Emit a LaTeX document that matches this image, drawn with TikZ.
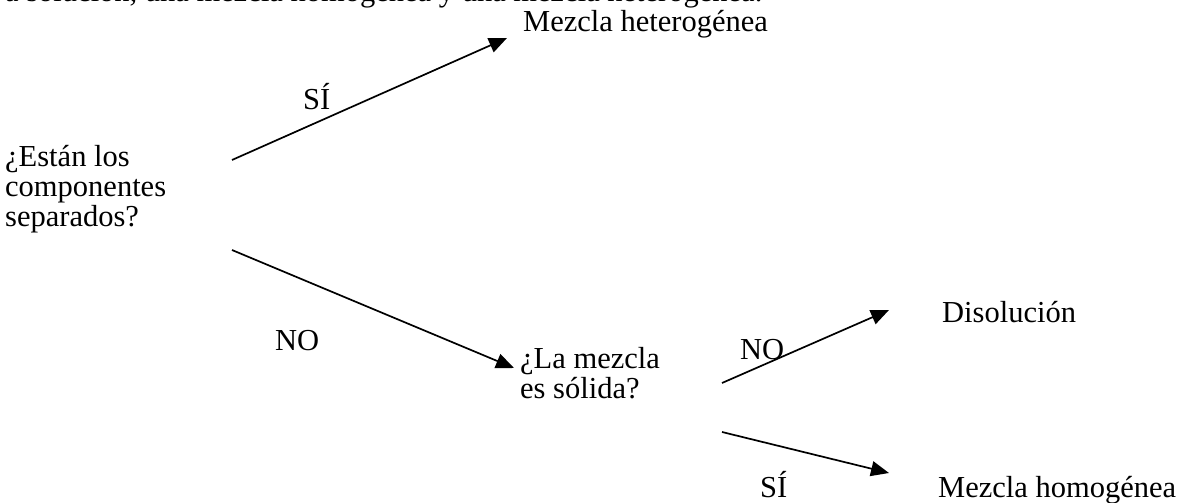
\documentclass[tikz,border=0pt]{standalone}
\usepackage{fontspec}
\setmainfont{Liberation Serif}
\usetikzlibrary{arrows.meta}
\begin{document}
\begin{tikzpicture}[x=1pt,y=-1pt,
  txt/.style={inner sep=0pt, anchor=base west, align=left,
    font=\fontsize{30.5}{30}\selectfont},
  arr/.style={line width=1.7pt, -{Triangle[length=18pt,width=15pt]}}]
\useasboundingbox (0,0) rectangle (1189,503);
\clip (0,0) rectangle (1189,503);
% clipped line of the page above
\node[txt] (top) at (5,2) {a solución, una mezcla homogénea y una mezcla heterogénea.};
% nodes
\node[txt] (E) at (5,226) {¿Están los\\componentes\\separados?};
\node[txt] (H) at (523,32) {Mezcla heterogénea};
\node[txt] (L) at (520,398) {¿La mezcla\\es sólida?};
\node[txt] (D) at (942,322) {Disolución};
\node[txt] (M) at (938,497) {Mezcla homogénea};
% labels
\node[txt] (si1) at (303,110) {SÍ};
\node[txt] (no1) at (275,350) {NO};
\node[txt] (no2) at (740,359) {NO};
\node[txt] (si2) at (760,497) {SÍ};
% connector ends
\coordinate (e1) at (232,160);
\coordinate (h1) at (507,38);
\coordinate (e2) at (232,250);
\coordinate (l1) at (514,368);
\coordinate (l2) at (722,383);
\coordinate (d1) at (889,310);
\coordinate (l3) at (722,432);
\coordinate (m1) at (889,473);
\draw[arr] (e1) -- (h1);
\draw[arr] (e2) -- (l1);
\draw[arr] (l2) -- (d1);
\draw[arr] (l3) -- (m1);
\end{tikzpicture}
\end{document}
